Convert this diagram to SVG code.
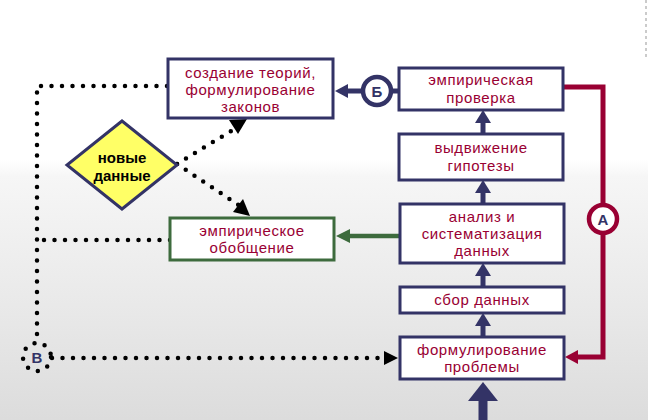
<svg xmlns="http://www.w3.org/2000/svg" width="648" height="420" viewBox="0 0 648 420">
<defs>
<linearGradient id="bg" x1="0" y1="0" x2="0" y2="1">
<stop offset="0" stop-color="#ffffff"/>
<stop offset="0.38" stop-color="#ffffff"/>
<stop offset="0.42" stop-color="#f6f6f6"/>
<stop offset="0.75" stop-color="#e8e8e8"/>
<stop offset="1" stop-color="#dcdcdc"/>
</linearGradient>
</defs>
<style>
.box{fill:#fff;stroke:#333366;stroke-width:3}
.gbox{fill:#fff;stroke:#3d6b3d;stroke-width:3}
.t{font-family:"Liberation Sans",Arial,sans-serif;font-size:15px;letter-spacing:0.6px;fill:#990033;text-anchor:middle}
.dot{fill:none;stroke:#000;stroke-width:4.5;stroke-linecap:round;stroke-dasharray:0 10.5}
.nav{stroke:#333366;stroke-width:5;fill:none}
.lbl{font-family:"Liberation Sans",Arial,sans-serif;font-size:15px;font-weight:bold;fill:#333366;text-anchor:middle}
</style>
<rect x="0" y="0" width="648" height="420" fill="url(#bg)"/>
<line x1="646" y1="0" x2="646" y2="60" stroke="#bbb" stroke-width="1.5" stroke-dasharray="3 3"/>

<g id="connectors">
<path class="dot" d="M167,86 L37,86 L37,342"/>
<path class="dot" d="M170,240 L37,240"/>
<path class="dot" d="M52,358 L388,358"/>
<path d="M384,351 L398,358 L384,365 Z" fill="#000"/>
<path class="dot" d="M177,164 L236,128"/>
<path d="M229,120 L247,119 L238,134 Z" fill="#000"/>
<path class="dot" d="M177,164 L240,206"/>
<path d="M233,212 L250,216 L243,199 Z" fill="#000"/>
<line class="nav" x1="483" y1="204" x2="483" y2="190"/>
<path d="M475,193 L483,180 L491,193 Z" fill="#333366"/>
<line class="nav" x1="483" y1="134" x2="483" y2="120"/>
<path d="M475,123 L483,110 L491,123 Z" fill="#333366"/>
<line class="nav" x1="483" y1="287" x2="483" y2="273"/>
<path d="M475,276 L483,263 L491,276 Z" fill="#333366"/>
<line class="nav" x1="483" y1="337" x2="483" y2="323"/>
<path d="M475,326 L483,313 L491,326 Z" fill="#333366"/>
<line x1="483" y1="420" x2="483" y2="395" stroke="#333366" stroke-width="9"/>
<path d="M468,401 L483,382 L498,401 Z" fill="#333366"/>
<line class="nav" x1="399" y1="91" x2="392" y2="91"/>
<line class="nav" x1="362" y1="91" x2="346" y2="91"/>
<path d="M348,84 L335,91 L348,98 Z" fill="#333366"/>
<line x1="400" y1="236" x2="348" y2="236" stroke="#3d6b3d" stroke-width="4.5"/>
<path d="M350,229 L336,236 L350,243 Z" fill="#3d6b3d"/>
<path d="M563,87 L603,87 L603,357 L576,357" fill="none" stroke="#990033" stroke-width="5"/>
<path d="M578,350 L565,357 L578,364 Z" fill="#990033"/>
</g>

<g id="circleB">
<circle cx="377" cy="91" r="14" fill="#fff" stroke="#333366" stroke-width="4.5"/>
<text class="lbl" x="377" y="96.5">Б</text>
</g>
<g id="circleA">
<circle cx="603" cy="219" r="14" fill="#fff" stroke="#990033" stroke-width="4.5"/>
<text class="lbl" x="603" y="224.5">А</text>
</g>
<g id="circleV">
<circle cx="37" cy="357" r="14" fill="#fff" class="dot" stroke-dasharray="0 8.8"/>
<text class="lbl" x="37" y="362.5">В</text>
</g>

<g id="theory">
<rect class="box" x="168" y="59" width="165" height="59"/>
<text class="t" x="250.5" y="78">создание теорий,</text>
<text class="t" x="250.5" y="95">формулирование</text>
<text class="t" x="250.5" y="112">законов</text>
</g>
<g id="check">
<rect class="box" x="399" y="68" width="164" height="42"/>
<text class="t" x="481" y="85">эмпирическая</text>
<text class="t" x="481" y="103">проверка</text>
</g>
<g id="hypothesis">
<rect class="box" x="399" y="134" width="164" height="46"/>
<text class="t" x="481" y="153">выдвижение</text>
<text class="t" x="481" y="171">гипотезы</text>
</g>
<g id="analysis">
<rect class="box" x="400" y="204" width="164" height="59"/>
<text class="t" x="482" y="222">анализ и</text>
<text class="t" x="482" y="239">систематизация</text>
<text class="t" x="482" y="256">данных</text>
</g>
<g id="collect">
<rect class="box" x="400" y="287" width="164" height="26"/>
<text class="t" x="482" y="305">сбор данных</text>
</g>
<g id="problem">
<rect class="box" x="400" y="337" width="164" height="42"/>
<text class="t" x="482" y="355">формулирование</text>
<text class="t" x="482" y="372">проблемы</text>
</g>
<g id="generalization">
<rect class="gbox" x="170" y="218" width="164" height="42"/>
<text class="t" x="252" y="236">эмпирическое</text>
<text class="t" x="252" y="253">обобщение</text>
</g>
<g id="newdata">
<path d="M122,121 L177,165 L122,209 L67,165 Z" fill="#ffff66" stroke="#333366" stroke-width="3"/>
<text x="122" y="163" font-family="'Liberation Sans',Arial,sans-serif" font-size="15" font-weight="bold" fill="#000" text-anchor="middle">новые</text>
<text x="122" y="181" font-family="'Liberation Sans',Arial,sans-serif" font-size="15" font-weight="bold" fill="#000" text-anchor="middle">данные</text>
</g>
</svg>
